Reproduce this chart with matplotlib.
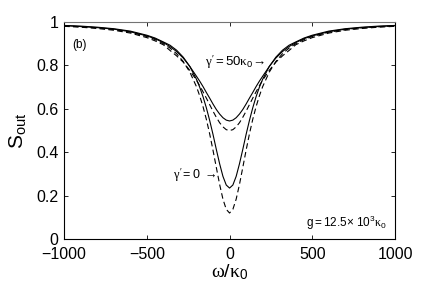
import numpy as np
import matplotlib
matplotlib.use("Agg")
import matplotlib.pyplot as plt

plt.rcParams["font.family"] = ["Liberation Sans", "DejaVu Sans"]
plt.rcParams["mathtext.fontset"] = "custom"
plt.rcParams["mathtext.rm"] = "Liberation Sans"
plt.rcParams["mathtext.it"] = "Liberation Serif"

# detuning omega/kappa_0
omega = [-1000, -900, -800, -700, -600, -500, -450, -400, -360, -320, -280, -240,
         -200, -180, -160, -140, -120, -100, -80, -60, -40, -20,
         0, 20, 40, 60, 80, 100, 120, 140, 160, 180, 200,
         240, 280, 320, 360, 400, 450, 500, 600, 700, 800, 900, 1000]

# gamma' = 50 kappa_0, solid
s_g50_solid = [0.983, 0.979, 0.974, 0.967, 0.955, 0.936, 0.923, 0.905, 0.887, 0.864, 0.834, 0.795,
               0.750, 0.727, 0.702, 0.675, 0.649, 0.622, 0.597, 0.576, 0.559, 0.548,
               0.544, 0.548, 0.559, 0.576, 0.597, 0.622, 0.649, 0.675, 0.702, 0.727, 0.750,
               0.795, 0.834, 0.864, 0.887, 0.905, 0.923, 0.936, 0.955, 0.967, 0.974, 0.979, 0.983]

# gamma' = 50 kappa_0, dashed
s_g50_dash = [0.980, 0.976, 0.970, 0.962, 0.949, 0.928, 0.913, 0.895, 0.869, 0.844, 0.815, 0.777,
              0.732, 0.706, 0.678, 0.649, 0.619, 0.589, 0.561, 0.536, 0.517, 0.504,
              0.500, 0.504, 0.517, 0.536, 0.561, 0.589, 0.619, 0.649, 0.678, 0.706, 0.732,
              0.777, 0.815, 0.844, 0.869, 0.895, 0.913, 0.928, 0.949, 0.962, 0.970, 0.976, 0.980]

# gamma' = 0, solid
s_g0_solid = [0.984, 0.981, 0.976, 0.969, 0.958, 0.939, 0.926, 0.908, 0.893, 0.870, 0.838, 0.795,
              0.736, 0.699, 0.655, 0.604, 0.546, 0.482, 0.413, 0.347, 0.289, 0.249,
              0.235, 0.249, 0.289, 0.347, 0.413, 0.482, 0.546, 0.604, 0.655, 0.699, 0.736,
              0.795, 0.838, 0.870, 0.893, 0.908, 0.926, 0.939, 0.958, 0.969, 0.976, 0.981, 0.984]

# gamma' = 0, dashed
s_g0_dash = [0.982, 0.978, 0.973, 0.965, 0.953, 0.933, 0.919, 0.900, 0.880, 0.854, 0.818, 0.769,
             0.702, 0.659, 0.609, 0.551, 0.484, 0.409, 0.330, 0.252, 0.184, 0.137,
             0.120, 0.137, 0.184, 0.252, 0.330, 0.409, 0.484, 0.551, 0.609, 0.659, 0.702,
             0.769, 0.818, 0.854, 0.880, 0.900, 0.919, 0.933, 0.953, 0.965, 0.973, 0.978, 0.982]

xticks = [-1000, -500, 0, 500, 1000]
yticks = [0, 0.2, 0.4, 0.6, 0.8, 1]

fig = plt.figure(figsize=(4.36, 2.93), dpi=100)
ax = fig.add_axes([0.147, 0.184, 0.759, 0.741])

ax.plot(omega, s_g50_solid, color="black", lw=0.8)
ax.plot(omega, s_g0_solid, color="black", lw=0.8)
ax.plot(omega, s_g50_dash, color="black", lw=0.8, dashes=(5, 3))
ax.plot(omega, s_g0_dash, color="black", lw=0.8, dashes=(5, 3))

ax.set_xlim(-1000, 1000)
ax.set_ylim(0, 1)
ax.set_xticks(xticks)
ax.set_xticklabels(["\u22121000", "\u2212500", "0", "500", "1000"])
ax.set_yticks(yticks)
ax.set_yticklabels(["0", "0.2", "0.4", "0.6", "0.8", "1"])
ax.tick_params(direction="in", length=3, width=0.6, top=True, right=True,
               labelsize=11.5)
ax.tick_params(axis="x", pad=6)
ax.tick_params(axis="y", pad=4)

for s in ax.spines.values():
    s.set_linewidth(0.8)
ax.spines["top"].set_color("0.45")

ax.set_xlabel(r"$\omega/\kappa_{\mathrm{0}}$", fontsize=14, labelpad=0)
ax.set_ylabel(r"$\mathrm{S}_{\mathrm{out}}$", fontsize=15, labelpad=6)

ax.text(-950, 0.895, "(b)", fontsize=8.5, va="center", ha="left")
ax.text(214, 0.815, r"$\gamma'\mathrm{=50}\kappa_{\mathrm{0}}\!\rightarrow$",
        fontsize=9.5, va="center", ha="right")
ax.text(-82, 0.295, r"$\gamma'\mathrm{=0}\ \rightarrow$",
        fontsize=9, va="center", ha="right")
ax.text(950, 0.075, r"$\mathrm{g=12.5}\!\times\,\mathrm{10^3}\kappa_{\mathrm{0}}$",
        fontsize=8.5, va="center", ha="right")

fig.savefig("out.png", dpi=100)
